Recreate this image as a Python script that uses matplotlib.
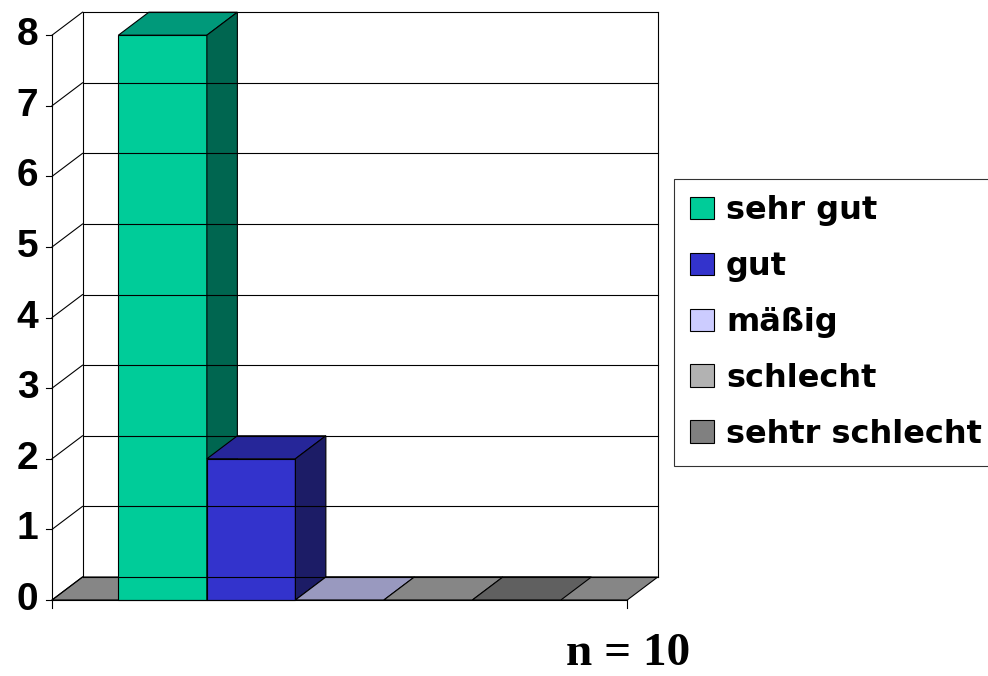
import matplotlib
matplotlib.use("Agg")
import matplotlib.pyplot as plt
from matplotlib.patches import Polygon, Patch

categories = ['sehr gut', 'gut', 'mäßig', 'schlecht', 'sehtr schlecht']
values = [8, 2, 0, 0, 0]
front_colors = ['#00CC99', '#3333CC', '#CCCCFF', '#B2B2B2', '#808080']
top_colors = ['#00997A', '#262699', '#9999BF', '#868686', '#606060']
side_colors = ['#006650', '#1C1C66', '#666680', '#5A5A5A', '#404040']
y_ticks = [0, 1, 2, 3, 4, 5, 6, 7, 8]
n_label = 'n = 10'

W, H = 988, 676
fig = plt.figure(figsize=(W / 100, H / 100), dpi=100)
ax = fig.add_axes([0, 0, 1, 1])
ax.set_axis_off()

# pixel geometry of the front plane: x=0 at px 52, 1 unit = bar width
px0, pxu = 52, 88.5
py0, pyu = 600, 70.6
ax.set_xlim((0 - px0) / pxu, (W - px0) / pxu)
ax.set_ylim((py0 - H) / pyu, py0 / pyu)

dx, dy = 30.5 / pxu, 23 / pyu   # depth offset
gap = 0.75
floor_w = gap * 2 + len(values)
ymax = max(y_ticks)
lw = 0.8

# floor
ax.add_patch(Polygon([(0, 0), (floor_w, 0), (floor_w + dx, dy), (dx, dy)],
                     closed=True, facecolor='#868686', edgecolor='black', lw=lw))

# back wall gridlines and frame
for v in y_ticks:
    ax.plot([dx, floor_w + dx], [v + dy, v + dy], color='black', lw=lw)
    ax.plot([0, dx], [v, v + dy], color='black', lw=lw)
    ax.plot([-0.07, 0], [v, v], color='black', lw=lw)
    ax.text(-0.155, v, str(v), ha='right', va='center', fontsize=28,
            fontweight='bold', family='Liberation Sans')
ax.plot([dx, dx], [dy, ymax + dy], color='black', lw=lw)
ax.plot([floor_w + dx, floor_w + dx], [dy, ymax + dy], color='black', lw=lw)
ax.plot([0, 0], [0, ymax], color='black', lw=lw)
ax.plot([0, floor_w], [0, 0], color='black', lw=lw)
ax.plot([0, 0], [0, -0.11], color='black', lw=lw)
ax.plot([floor_w, floor_w], [0, -0.11], color='black', lw=lw)

# bars
for i, v in enumerate(values):
    x0 = gap + i
    x1 = x0 + 1
    ax.add_patch(Polygon([(x0, v), (x1, v), (x1 + dx, v + dy), (x0 + dx, v + dy)],
                         closed=True, facecolor=top_colors[i], edgecolor='black', lw=lw))
    if v > 0:
        ax.add_patch(Polygon([(x0, 0), (x1, 0), (x1, v), (x0, v)], closed=True,
                             facecolor=front_colors[i], edgecolor='black', lw=lw))
        ax.add_patch(Polygon([(x1, 0), (x1 + dx, dy), (x1 + dx, v + dy), (x1, v)],
                             closed=True, facecolor=side_colors[i], edgecolor='black', lw=lw))

handles = [Patch(facecolor=c, edgecolor='black', lw=lw) for c in front_colors]
leg = fig.legend(handles, categories, loc='upper left',
                 bbox_to_anchor=(674 / W, 1 - 179 / H), borderaxespad=0,
                 prop={'family': 'DejaVu Sans', 'weight': 'bold', 'size': 23},
                 frameon=True, fancybox=False, edgecolor='black',
                 handlelength=0.75, handleheight=0.69, handletextpad=0.38,
                 labelspacing=0.78, borderpad=0.5)
leg.get_frame().set_linewidth(lw)

fig.text(628 / W, 1 / H, n_label, ha='center', va='bottom', fontsize=34,
         fontweight='bold', family='Liberation Serif')

fig.savefig('out.png', dpi=100)
